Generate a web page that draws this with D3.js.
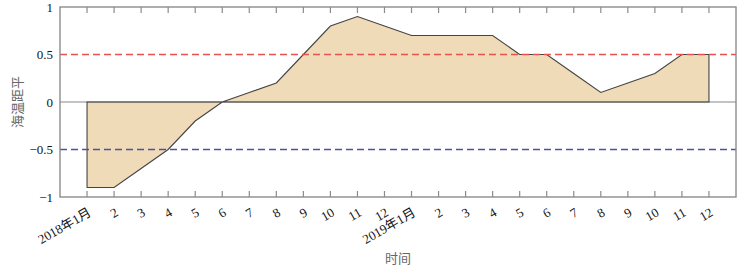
<!DOCTYPE html>
<html>
<head>
<meta charset="utf-8">
<script src="https://cdn.jsdelivr.net/npm/d3@7"></script>
<style>
  body { margin: 0; background: #fff; }
</style>
</head>
<body>
<div id="chart"></div>
<script>
const width = 753;
const height = 271;
const fontFamily = "Liberation Serif, DejaVu Serif, Tinos, serif, Noto Sans CJK SC";

// month labels along x
const months = ["2018年1月","2","3","4","5","6","7","8","9","10","11","12",
                "2019年1月","2","3","4","5","6","7","8","9","10","11","12"];
// sea temperature anomaly
const anomaly = [-0.9,-0.9,-0.7,-0.5,-0.2,0,0.1,0.2,0.5,0.8,0.9,0.8,
                 0.7,0.7,0.7,0.7,0.5,0.5,0.3,0.1,0.2,0.3,0.5,0.5];
const yTicks = [-1,-0.5,0,0.5,1];
const refLines = [
   {value: 0.5, colour: "#e8524f"},
   {value: -0.5, colour: "#4f4fa8"}
];

const margin = {top: 7, right: 17, bottom: 74, left: 60};

const svg = d3.select("#chart").append("svg")
   .attr("width", width)
   .attr("height", height)
   .attr("font-family", fontFamily);

const data = anomaly.map((v,i) => ({i: i, value: v}));

const x = d3.scaleLinear()
   .domain([-1, months.length])
   .range([margin.left, width-margin.right]);

const y = d3.scaleLinear()
   .domain([-1, 1])
   .range([height-margin.bottom, margin.top]);

// area between zero and the curve
const area = d3.area()
   .x(d => x(d.i))
   .y0(y(0))
   .y1(d => y(d.value));

svg.append("path")
   .datum(data)
   .attr("d", area)
   .style("fill", "#f0dbb8")
   .style("stroke", "none");

// zero line
svg.append("line")
   .attr("x1", x.range()[0]).attr("x2", x.range()[1])
   .attr("y1", y(0)).attr("y2", y(0))
   .style("stroke", "#888")
   .style("stroke-width", 1.2);

// outline of the area
svg.append("path")
   .datum(data)
   .attr("d", d => {
      const pts = [[x(d[0].i), y(0)]]
         .concat(d.map(p => [x(p.i), y(p.value)]))
         .concat([[x(d[d.length-1].i), y(0)]]);
      return d3.line()(pts) + "Z";
   })
   .style("fill", "none")
   .style("stroke", "#444")
   .style("stroke-width", 1.1);

// dashed reference lines
svg.selectAll("line.ref")
   .data(refLines)
   .enter()
   .append("line")
   .attr("class", "ref")
   .attr("x1", x.range()[0]).attr("x2", x.range()[1])
   .attr("y1", d => y(d.value)).attr("y2", d => y(d.value))
   .style("stroke", d => d.colour)
   .style("stroke-width", 1.3)
   .style("stroke-dasharray", "7,4");

// frame
svg.append("rect")
   .attr("x", x.range()[0])
   .attr("y", y.range()[1])
   .attr("width", x.range()[1]-x.range()[0])
   .attr("height", y.range()[0]-y.range()[1])
   .style("fill", "none")
   .style("stroke", "#8c8c8c")
   .style("stroke-width", 1.4);

// ticks, top and bottom, pointing inward
const ticks = d3.range(months.length);
svg.selectAll("line.tickTop")
   .data(ticks)
   .enter()
   .append("line")
   .attr("x1", d => x(d)).attr("x2", d => x(d))
   .attr("y1", y(1)).attr("y2", y(1)+6)
   .style("stroke", "#8c8c8c")
   .style("stroke-width", 1.2);

svg.selectAll("line.tickBottom")
   .data(ticks)
   .enter()
   .append("line")
   .attr("x1", d => x(d)).attr("x2", d => x(d))
   .attr("y1", y(-1)).attr("y2", y(-1)-6)
   .style("stroke", "#8c8c8c")
   .style("stroke-width", 1.2);

// x labels, rotated
svg.selectAll("text.xLabel")
   .data(months)
   .enter()
   .append("text")
   .attr("class", "xLabel")
   .attr("transform", (d,i) => `translate(${x(i)+5},${y(-1)+18}) rotate(-30)`)
   .style("text-anchor", "end")
   .style("font-size", "13px")
   .style("fill", "#111")
   .text(d => d);

// y labels
svg.selectAll("text.yLabel")
   .data(yTicks)
   .enter()
   .append("text")
   .attr("class", "yLabel")
   .attr("x", x.range()[0]-7)
   .attr("y", d => y(d))
   .attr("dy", "0.35em")
   .style("text-anchor", "end")
   .style("font-size", "13px")
   .style("fill", "#111")
   .text(d => d3.format("")(d).replace("-", "\u2212"));

// axis titles
svg.append("text")
   .attr("transform", `translate(22,${(y(1)+y(-1))/2}) rotate(-90)`)
   .style("text-anchor", "middle")
   .style("font-size", "13px")
   .style("fill", "#666")
   .text("海温距平");

svg.append("text")
   .attr("x", (x.range()[0]+x.range()[1])/2)
   .attr("y", 263)
   .style("text-anchor", "middle")
   .style("font-size", "13px")
   .style("fill", "#666")
   .text("时间");
</script>
</body>
</html>
